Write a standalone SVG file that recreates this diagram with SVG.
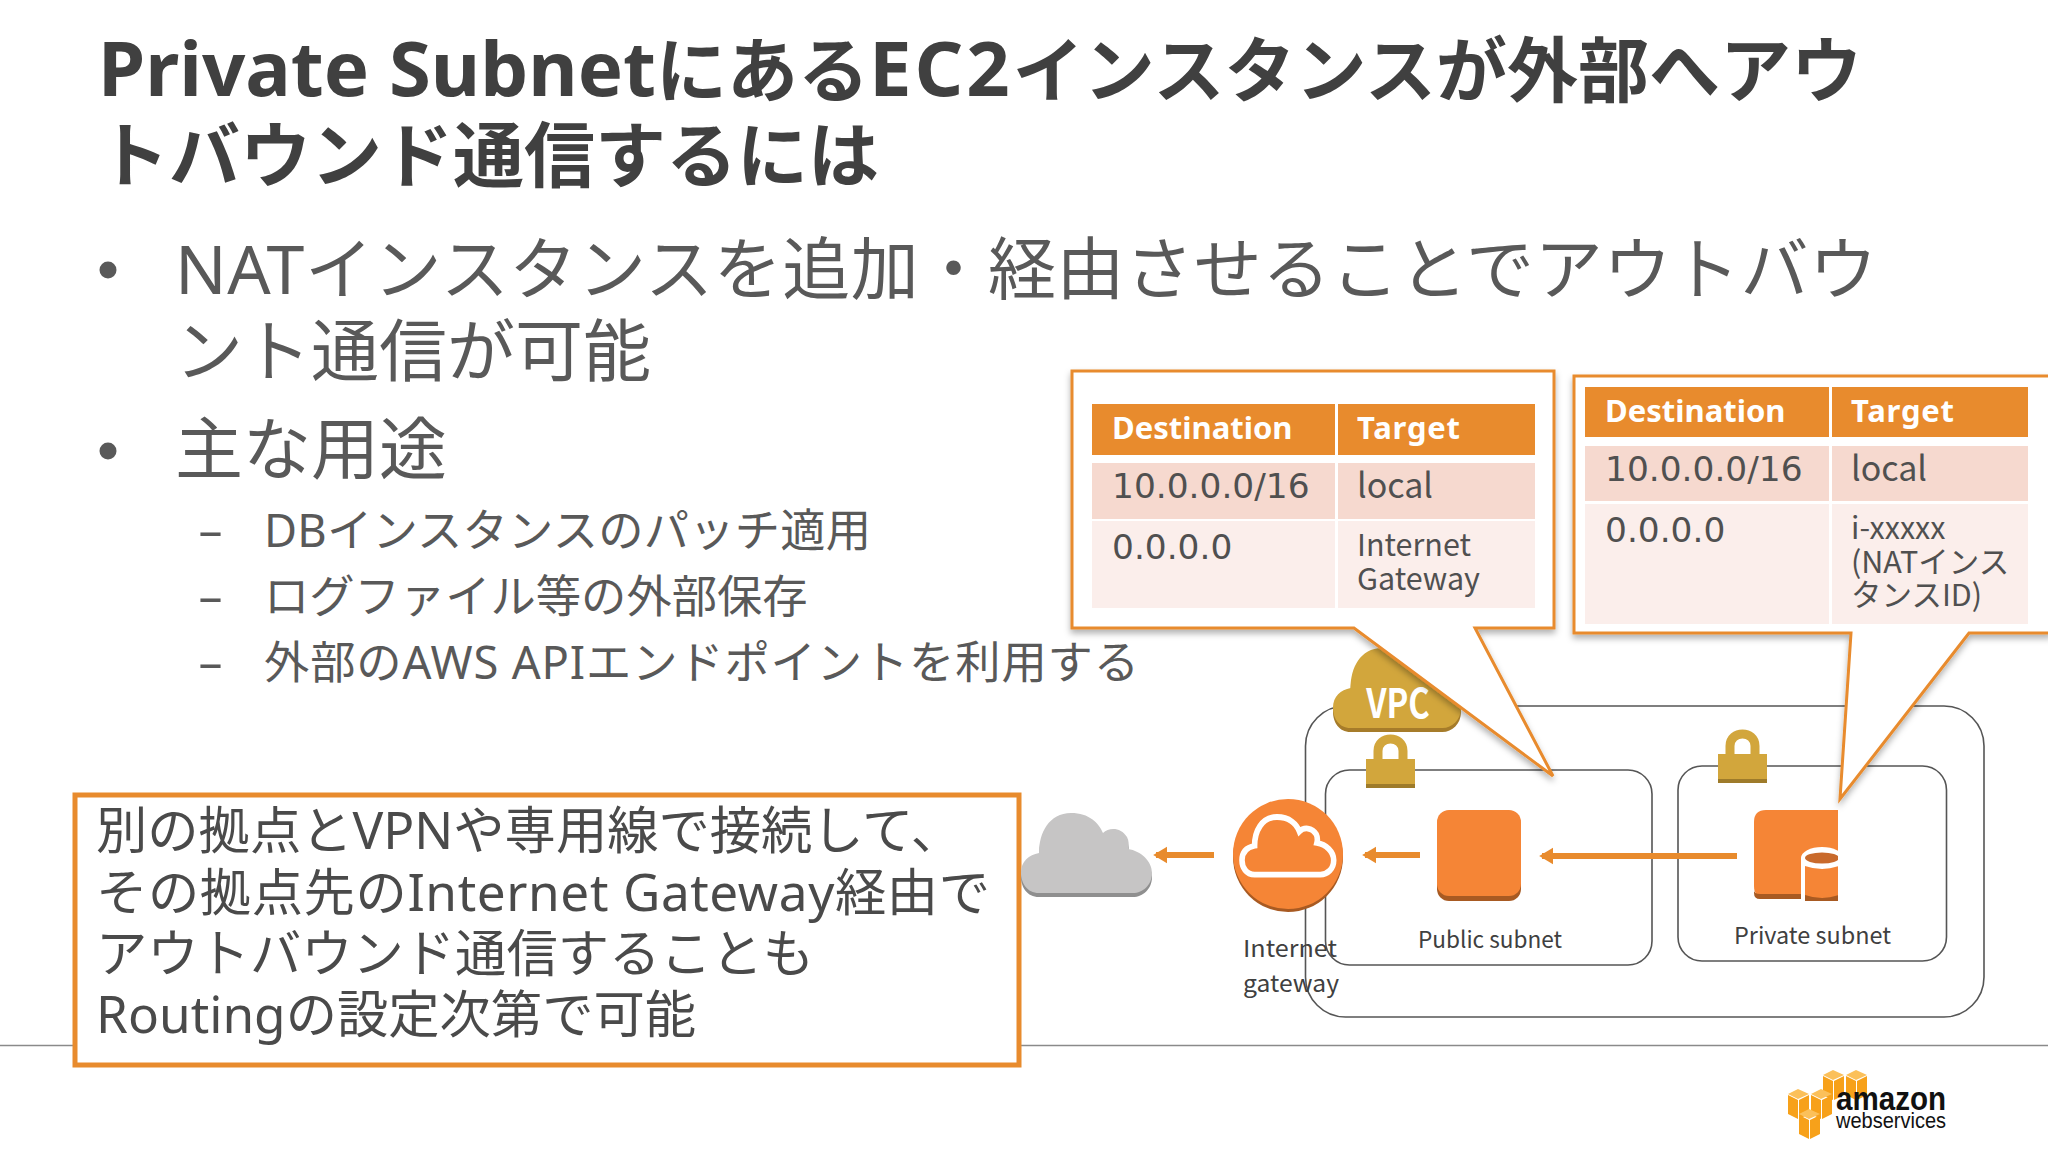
<svg xmlns="http://www.w3.org/2000/svg" width="2048" height="1152" viewBox="0 0 2048 1152">
<style>
text{font-family:"Noto Sans","Noto Sans CJK JP",sans-serif;fill:#595959}
.title{font-size:71px;font-weight:700;fill:#404040}
.lt{font-size:76px}
.b1{font-size:68px}
.b2{font-size:45.3px}
.dash{font-size:50px;font-family:"DejaVu Sans",sans-serif}
.box{font-size:51.3px;fill:#4a4a4a}
.th{font-size:31px;font-weight:700;fill:#fff}
.td{font-size:34.400px;fill:#505050;font-family:"DejaVu Sans",sans-serif}
.tl{font-size:34px;fill:#505050;font-family:"Noto Sans CJK JP",sans-serif}
.ts{font-size:30.500px;fill:#505050;font-family:"Noto Sans CJK JP",sans-serif}
.lab{font-size:23px;fill:#404040;font-family:"Noto Sans CJK JP",sans-serif}
.hd{fill:#E88B2D}.r1{fill:#F6D9CF}.r2{fill:#FBEEEB}
.call{fill:#fff;stroke:#E88B2D;stroke-width:3;filter:url(#sh)}
.frame{fill:none;stroke:#555;stroke-width:1.6}
.arr{stroke:#E88B2D;stroke-width:6;fill:none;marker-end:url(#ah)}
.cube{fill:#F7A11A}
</style>
<defs>
<filter id="sh" x="-5%" y="-5%" width="110%" height="110%"><feDropShadow dx="0" dy="4" stdDeviation="3" flood-color="#000" flood-opacity=".3"/></filter>
<marker id="ah" viewBox="0 0 10 12" refX="8" refY="6" markerUnits="userSpaceOnUse" markerWidth="14" markerHeight="20" orient="auto"><path d="M0 0L10 6L0 12Z" fill="#E88B2D"/></marker>
<clipPath id="cutp"><rect x="1790" y="840" width="48" height="70"/></clipPath>
<path id="cl" d="M18 80C6 80 0 70 0 60C0 48 8 42 18 40C18 20 28 0 50 0C68 0 78 10 82 20C88 14 100 14 106 24C108 28 108 32 107 36C120 38 131 48 131 60C131 72 122 80 112 80Z"/>
<g id="cu"><path d="M0 -5L10 -10L21 -5L10 0Z" fill="#FBC05A"/><path d="M0 -4L10 1V20L0 15Z" class="cube"/><path d="M11 1L21 -4V15L11 20Z" class="cube"/></g>
<g id="lock"><path d="M12 30V17C12 1 37 1 37 17V30" fill="none" stroke="#D2A63C" stroke-width="9"/><rect x="0" y="25" width="49" height="29" fill="#D2A63C"/><rect x="0" y="50" width="49" height="4" fill="#9E7B2A"/></g>
</defs>
<rect width="2048" height="1152" fill="#fff"/>
<line x1="0" y1="1045.500" x2="2048" y2="1045.500" stroke="#8a8a8a" stroke-width="1.500"/>
<g id="title">
<text class="title" x="98" y="96"><tspan class="lt">Private Subnet</tspan>にある<tspan class="lt" letter-spacing="3">EC2</tspan>インスタンスが外部へアウ</text>
<text class="title" x="98" y="181">トバウンド通信するには</text>
</g>
<g id="bullets">
<circle cx="108" cy="270" r="8.500" fill="#595959"/>
<text class="b1" x="175" y="294" textLength="1702">NATインスタンスを追加・経由させることでアウトバウ</text>
<text class="b1" x="175" y="376">ント通信が可能</text>
<circle cx="108" cy="451" r="8.500" fill="#595959"/>
<text class="b1" x="175" y="474">主な用途</text>
<text class="dash" x="198" y="548">–</text>
<text class="b2" x="264" y="547" textLength="607">DBインスタンスのパッチ適用</text>
<text class="dash" x="198" y="614">–</text>
<text class="b2" x="264" y="613">ログファイル等の外部保存</text>
<text class="dash" x="198" y="680">–</text>
<text class="b2" x="264" y="679" textLength="875">外部のAWS APIエンドポイントを利用する</text>
</g>
<g id="note">
<rect x="75" y="795" width="944" height="270" fill="#fff" stroke="#E88B2D" stroke-width="5"/>
<text class="box" x="96" y="849">別の拠点とVPNや専用線で接続して、</text>
<text class="box" x="96" y="911" textLength="894">その拠点先のInternet Gateway経由で</text>
<text class="box" x="96" y="972">アウトバウンド通信することも</text>
<text class="box" x="96" y="1033">Routingの設定次第で可能</text>
</g>
<g id="vpc-box"><rect class="frame" x="1305.500" y="706" width="678.500" height="311" rx="40"/></g>
<g id="public-subnet"><rect class="frame" x="1325.500" y="770" width="326.500" height="195" rx="24"/><use href="#lock" x="1366" y="734"/><text class="lab" x="1418" y="948" textLength="144" lengthAdjust="spacingAndGlyphs">Public subnet</text></g>
<g id="private-subnet"><rect class="frame" x="1678" y="766" width="268.500" height="195" rx="24"/><use href="#lock" x="1718" y="729"/><text class="lab" x="1734" y="944" textLength="157" lengthAdjust="spacingAndGlyphs">Private subnet</text></g>
<g id="vpc-cloud">
<use href="#cl" transform="translate(1333 652) scale(.977 1)" fill="#A67C2A"/>
<use href="#cl" transform="translate(1333 648) scale(.977 1)" fill="#D2A63C"/>
<text x="1398" y="718" text-anchor="middle" style="font-size:40px;font-weight:700;fill:#fff;font-family:'Noto Sans CJK JP',sans-serif" transform="translate(1398 0) scale(.82 1) translate(-1398 0)">VPC</text>
</g>
<g id="internet-cloud">
<use href="#cl" transform="translate(1021 817) scale(1 1)" fill="#8f8f8f"/>
<use href="#cl" transform="translate(1021 813) scale(1 1)" fill="#C6C5C5"/>
</g>
<g id="internet-gateway">
<circle cx="1288" cy="857" r="55" fill="#A85A22"/>
<circle cx="1288" cy="854" r="55" fill="#F58536"/>
<use href="#cl" transform="translate(1242 817) scale(.7 .72)" fill="none" stroke="#fff" style="stroke-width:8"/>
<text class="lab" x="1243" y="957" textLength="94" lengthAdjust="spacingAndGlyphs">Internet</text>
<text class="lab" x="1243" y="992" textLength="96" lengthAdjust="spacingAndGlyphs">gateway</text>
</g>
<g id="public-instance">
<rect x="1437" y="814" width="84" height="87" rx="12" fill="#A85A22"/>
<rect x="1437" y="810" width="84" height="86" rx="12" fill="#F58536"/>
</g>
<g id="private-instance">
<path d="M1766 810H1838V898H1766Q1754 898 1754 886V822Q1754 810 1766 810Z" fill="#F58536"/>
<path d="M1754 890V893Q1754 899 1760 899H1801V894H1760Q1754 894 1754 890Z" fill="#A85A22"/>
<g clip-path="url(#cutp)">
<path d="M1801 858V901H1843V858Z" fill="#fff"/>
<ellipse cx="1822" cy="858" rx="21" ry="11" fill="#fff"/>
<ellipse cx="1822" cy="858" rx="17" ry="5.500" fill="#C96A2C"/>
<path d="M1805 866Q1822 872 1839 866V900H1805Z" fill="#F58536"/>
<path d="M1805 895Q1822 901 1839 895V901H1805Z" fill="#A85A22"/>
</g>
</g>
<g id="connectors">
<path class="arr" d="M1214 855H1156"/>
<path class="arr" d="M1420 855H1365"/>
<path class="arr" d="M1737 856H1542"/>
</g>
<g id="callout-public">
<path class="call" d="M1072 371H1554V628H1475L1553 776L1354 628H1072Z"/>
<rect class="hd" x="1092" y="404" width="243" height="51"/><rect class="hd" x="1338" y="404" width="197" height="51"/>
<rect class="r1" x="1092" y="463" width="243" height="56"/><rect class="r1" x="1338" y="463" width="197" height="56"/>
<rect class="r2" x="1092" y="521" width="243" height="87"/><rect class="r2" x="1338" y="521" width="197" height="87"/>
<text class="th" x="1112" y="439">Destination</text><text class="th" x="1357" y="439" textLength="103">Target</text>
<text class="td" x="1112" y="498">10.0.0.0/16</text><text class="tl" x="1357" y="498">local</text>
<text class="td" x="1112" y="559">0.0.0.0</text>
<text class="ts" x="1357" y="556">Internet</text><text class="ts" x="1357" y="590">Gateway</text>
</g>
<g id="callout-private">
<path class="call" d="M1574 376H2050V633H1969L1840 799L1851 633H1574Z"/>
<rect class="hd" x="1585" y="387" width="244" height="50"/><rect class="hd" x="1832" y="387" width="196" height="50"/>
<rect class="r1" x="1585" y="446" width="244" height="55"/><rect class="r1" x="1832" y="446" width="196" height="55"/>
<rect class="r2" x="1585" y="504" width="244" height="120"/><rect class="r2" x="1832" y="504" width="196" height="120"/>
<text class="th" x="1605" y="422">Destination</text><text class="th" x="1851" y="422" textLength="103">Target</text>
<text class="td" x="1605" y="481">10.0.0.0/16</text><text class="tl" x="1851" y="481">local</text>
<text class="td" x="1605" y="542">0.0.0.0</text>
<text class="ts" x="1851" y="539">i-xxxxx</text><text class="ts" x="1851" y="573">(NATインス</text><text class="ts" x="1851" y="606">タンスID)</text>
</g>
<g id="aws-logo">
<use href="#cu" x="1823" y="1080"/><use href="#cu" x="1846" y="1080"/><use href="#cu" x="1788" y="1099"/><use href="#cu" x="1811" y="1099"/><use href="#cu" x="1799" y="1119"/>
<text x="1836" y="1110" textLength="110" lengthAdjust="spacingAndGlyphs" style="font-family:'Liberation Sans',sans-serif;font-size:33px;font-weight:700;fill:#111">amazon</text>
<text x="1836" y="1128" textLength="110" lengthAdjust="spacingAndGlyphs" style="font-family:'Liberation Sans',sans-serif;font-size:22px;fill:#111">webservices</text>
</g>
</svg>
